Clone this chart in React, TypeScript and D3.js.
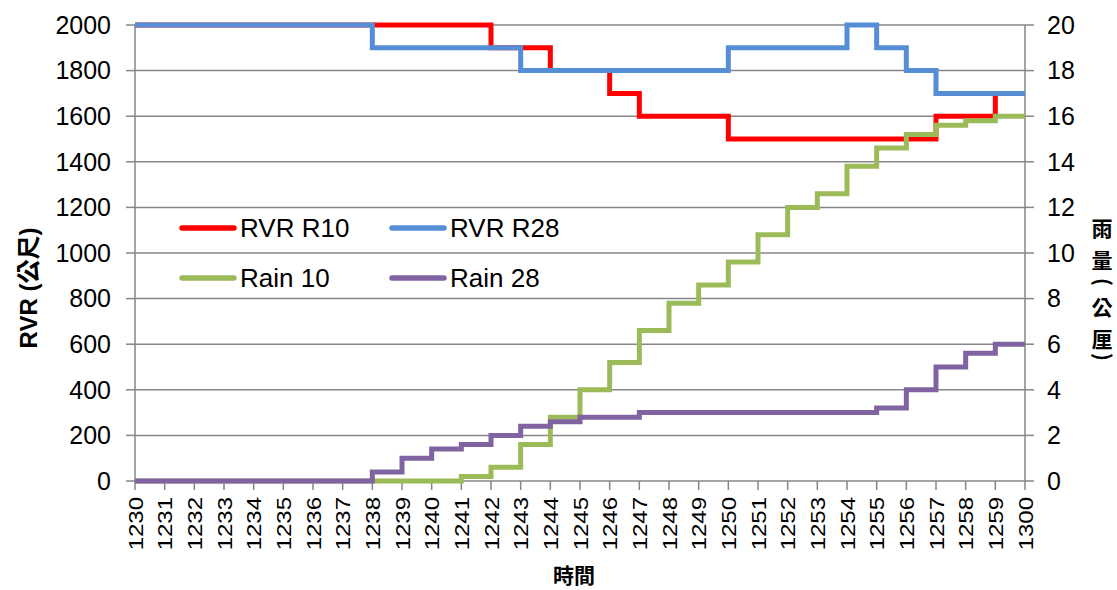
import React from "react";
import * as d3 from "d3";

const times = ["1230","1231","1232","1233","1234","1235","1236","1237","1238","1239","1240","1241","1242","1243","1244","1245","1246","1247","1248","1249","1250","1251","1252","1253","1254","1255","1256","1257","1258","1259","1300"];
const rvrR10 = [2000,2000,2000,2000,2000,2000,2000,2000,2000,2000,2000,2000,1900,1900,1800,1800,1700,1600,1600,1600,1500,1500,1500,1500,1500,1500,1500,1600,1600,1700,1700];
const rvrR28 = [2000,2000,2000,2000,2000,2000,2000,2000,1900,1900,1900,1900,1900,1800,1800,1800,1800,1800,1800,1800,1900,1900,1900,1900,2000,1900,1800,1700,1700,1700,1700];
const rain10 = [0,0,0,0,0,0,0,0,0,0,0,0.2,0.6,1.6,2.8,4.0,5.2,6.6,7.8,8.6,9.6,10.8,12.0,12.6,13.8,14.6,15.2,15.6,15.8,16.0,16.0];
const rain28 = [0,0,0,0,0,0,0,0,0.4,1.0,1.4,1.6,2.0,2.4,2.6,2.8,2.8,3.0,3.0,3.0,3.0,3.0,3.0,3.0,3.0,3.2,4.0,5.0,5.6,6.0,6.0];
const leftTicks = [0,200,400,600,800,1000,1200,1400,1600,1800,2000];
const rightTicks = [0,2,4,6,8,10,12,14,16,18,20];
const rightTitle = ["雨","量","(","公","厘",")"];

const series = [
  { name: "RVR R10", values: rvrR10, axis: "left", color: "#FF0000" },
  { name: "RVR R28", values: rvrR28, axis: "left", color: "#558ED5" },
  { name: "Rain 10", values: rain10, axis: "right", color: "#9BBB59" },
  { name: "Rain 28", values: rain28, axis: "right", color: "#8064A2" },
];

export default function App() {
  const L = 135, R = 1025, T = 25, B = 481;
  const x = d3.scaleLinear().domain([0, times.length - 1]).range([L, R]);
  const yL = d3.scaleLinear().domain([0, 2000]).range([B, T]);
  const yR = d3.scaleLinear().domain([0, 20]).range([B, T]);
  const grid = "#868686";
  const font = "Arial, 'Liberation Sans', sans-serif";
  const cjk = "'Noto Sans CJK TC', 'Noto Sans CJK SC', sans-serif";

  const legend = [
    { s: series[0], lx: 182, ly: 228 },
    { s: series[1], lx: 392, ly: 228 },
    { s: series[2], lx: 182, ly: 278 },
    { s: series[3], lx: 392, ly: 278 },
  ];
  const titleY = [229, 261, 282, 308, 340, 357];

  return (
    <svg width={1117} height={590} style={{ position: "absolute", left: 0, top: 0, background: "#fff" }} fontFamily={font}>
      {leftTicks.map((t) => (
        <line key={"g" + t} x1={L} x2={R} y1={yL(t)} y2={yL(t)} stroke={grid} strokeWidth={1.5} />
      ))}
      <line x1={L} x2={L} y1={T} y2={B} stroke={grid} strokeWidth={1.5} />
      <line x1={R} x2={R} y1={T} y2={B} stroke={grid} strokeWidth={1.5} />
      {leftTicks.map((t) => (
        <g key={"l" + t}>
          <line x1={L - 9} x2={L} y1={yL(t)} y2={yL(t)} stroke={grid} strokeWidth={1.5} />
          <text x={L - 24} y={yL(t)} dy="0.35em" textAnchor="end" fontSize={25}>{t}</text>
        </g>
      ))}
      {rightTicks.map((t) => (
        <g key={"r" + t}>
          <line x1={R} x2={R + 9} y1={yR(t)} y2={yR(t)} stroke={grid} strokeWidth={1.5} />
          <text x={R + 22} y={yR(t)} dy="0.35em" textAnchor="start" fontSize={25}>{t}</text>
        </g>
      ))}
      {times.map((t, i) => (
        <g key={"x" + t}>
          <line x1={x(i)} x2={x(i)} y1={B} y2={B + 9} stroke={grid} strokeWidth={1.5} />
          <text transform={`translate(${x(i) + 7.5},${B + 16}) rotate(-90) scale(1.2,1)`} textAnchor="end" fontSize={20}>{t}</text>
        </g>
      ))}
      {series.map((s) => {
        const ys = s.axis === "left" ? yL : yR;
        const line = d3.line<number>().x((_, i) => x(i)).y((v) => ys(v)).curve(d3.curveStepAfter);
        return <path key={s.name} d={line(s.values) || ""} fill="none" stroke={s.color} strokeWidth={5} />;
      })}
      {legend.map(({ s, lx, ly }) => (
        <g key={"lg" + s.name}>
          <line x1={lx} x2={lx + 52} y1={ly} y2={ly} stroke={s.color} strokeWidth={5.5} strokeLinecap="round" />
          <text x={lx + 58} y={ly} dy="0.35em" fontSize={26}>{s.name}</text>
        </g>
      ))}
      <text transform={`translate(37,288) rotate(-90)`} textAnchor="middle" fontSize={24} fontWeight="bold" fontFamily={`Arial, 'Liberation Sans', ${cjk}`}>RVR (公尺)</text>
      <g fontSize={21} fontWeight="bold" fontFamily={cjk}>
        {rightTitle.map((c, i) => {
          const isParen = c === "(" || c === ")";
          return (
            <text key={"t" + i} transform={`translate(1102,${titleY[i]}) rotate(${isParen ? 90 : 0})`} textAnchor="middle" dy="0.35em">{c}</text>
          );
        })}
      </g>
      <text x={574} y={583} textAnchor="middle" fontSize={21} fontWeight="bold" fontFamily={cjk}>時間</text>
    </svg>
  );
}
